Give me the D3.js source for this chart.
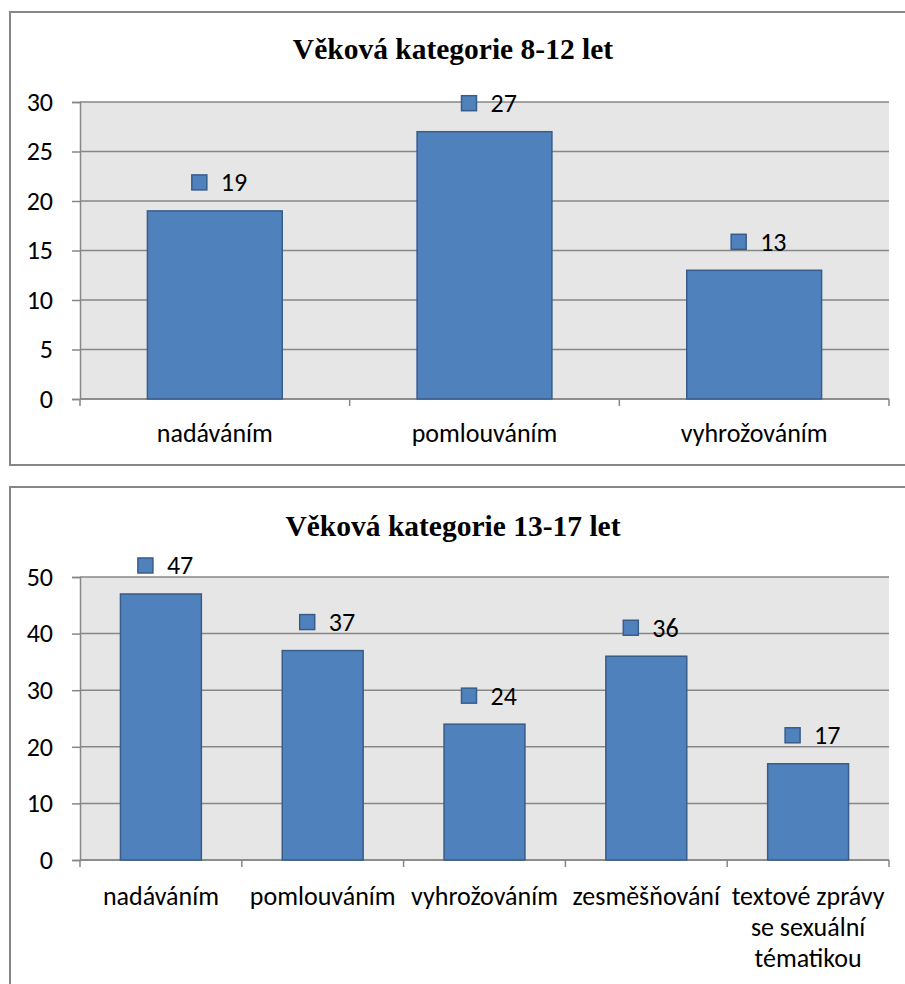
<!DOCTYPE html>
<html><head><meta charset="utf-8">
<script src="https://cdn.jsdelivr.net/npm/d3@7"></script>
<style>
html,body{margin:0;padding:0;background:#fff;}
svg{display:block;}
</style></head>
<body>
<svg id="chart" width="905" height="984"></svg>
<script>
// ---- data ----
const title1 = "Věková kategorie 8-12 let";
const categories1 = ["nadáváním", "pomlouváním", "vyhrožováním"];
const values1 = [19, 27, 13];
const yTicks1 = [0, 5, 10, 15, 20, 25, 30];

const title2 = "Věková kategorie 13-17 let";
const categories2 = ["nadáváním", "pomlouváním", "vyhrožováním", "zesměšňování", "textové zprávy\nse sexuální\ntématikou"];
const values2 = [47, 37, 24, 36, 17];
const yTicks2 = [0, 10, 20, 30, 40, 50];

// ---- styles ----
const labelFont = "Carlito, Lato, 'Noto Sans', sans-serif";
const labelSize = 26;
const titleFont = "'Liberation Serif', 'Times New Roman', serif";
const gridColor = "#878787";
const plotBg = "#e6e6e6";
const barFill = "#4f81bd";
const barStroke = "#385d8a";

const svg = d3.select("#chart");

function drawChart(cfg) {
  const g = svg.append("g");
  // frame
  g.append("rect")
    .attr("x", cfg.frame.x).attr("y", cfg.frame.y)
    .attr("width", cfg.frame.w).attr("height", cfg.frame.h)
    .attr("fill", "#fff").attr("stroke", "#878787").attr("stroke-width", 2);

  // title
  g.append("text")
    .attr("x", 453).attr("y", cfg.titleY)
    .attr("text-anchor", "middle")
    .attr("font-family", titleFont).attr("font-weight", "bold")
    .attr("font-size", 29.5).attr("fill", "#000")
    .text(cfg.title);

  const x = d3.scaleBand().domain(cfg.categories)
    .range([cfg.plot.x0, cfg.plot.x1]).paddingInner(0.5).paddingOuter(0.25);
  const y = d3.scaleLinear().domain([0, d3.max(cfg.yTicks)])
    .range([cfg.plot.y1, cfg.plot.y0]);

  // plot background
  g.append("rect")
    .attr("x", cfg.plot.x0).attr("y", y(d3.max(cfg.yTicks)))
    .attr("width", cfg.plot.x1 - cfg.plot.x0)
    .attr("height", y(0) - y(d3.max(cfg.yTicks)))
    .attr("fill", plotBg);

  // gridlines
  g.append("g").selectAll("line").data(cfg.yTicks).join("line")
    .attr("x1", cfg.plot.x0).attr("x2", cfg.plot.x1)
    .attr("y1", d => y(d)).attr("y2", d => y(d))
    .attr("stroke", gridColor).attr("stroke-width", 1.5);

  // y axis
  const yAxis = g.append("g")
    .attr("transform", `translate(${cfg.plot.x0},0)`)
    .call(d3.axisLeft(y).tickValues(cfg.yTicks).tickSize(8).tickPadding(19).tickFormat(d3.format("d")));
  yAxis.select(".domain").attr("stroke", gridColor).attr("stroke-width", 1.5);
  yAxis.selectAll(".tick line").attr("stroke", gridColor).attr("stroke-width", 1.5);
  yAxis.selectAll(".tick text")
    .attr("font-family", labelFont).attr("font-size", labelSize).attr("fill", "#000");

  // x axis baseline & boundary ticks
  const step = x.step();
  const bounds = d3.range(cfg.categories.length + 1).map(i => cfg.plot.x0 + i * step);
  g.append("line")
    .attr("x1", cfg.plot.x0).attr("x2", cfg.plot.x1)
    .attr("y1", y(0)).attr("y2", y(0))
    .attr("stroke", gridColor).attr("stroke-width", 1.5);
  g.append("g").selectAll("line").data(bounds).join("line")
    .attr("x1", d => d).attr("x2", d => d)
    .attr("y1", y(0)).attr("y2", y(0) + 7)
    .attr("stroke", gridColor).attr("stroke-width", 1.5);

  // bars
  g.append("g").selectAll("rect").data(cfg.values).join("rect")
    .attr("x", (d, i) => x(cfg.categories[i]))
    .attr("y", d => y(d))
    .attr("width", x.bandwidth())
    .attr("height", d => y(0) - y(d))
    .attr("fill", barFill).attr("stroke", barStroke).attr("stroke-width", 1.5);

  // data labels with legend key
  const lab = g.append("g").selectAll("g").data(cfg.values).join("g")
    .attr("transform", (d, i) => `translate(${x(cfg.categories[i]) + x.bandwidth() / 2},${y(d) - 28.5})`);
  lab.append("rect")
    .attr("x", -23).attr("y", -7.5).attr("width", 15).attr("height", 15)
    .attr("fill", barFill).attr("stroke", barStroke).attr("stroke-width", 1.5);
  lab.append("text")
    .attr("x", 6).attr("y", 9)
    .attr("font-family", labelFont).attr("font-size", labelSize).attr("fill", "#000")
    .text(d => d);

  // category labels
  const cl = g.append("g").selectAll("text").data(cfg.categories).join("text")
    .attr("x", d => x(d) + x.bandwidth() / 2)
    .attr("y", cfg.catY)
    .attr("text-anchor", "middle")
    .attr("font-family", labelFont).attr("font-size", labelSize).attr("fill", "#000");
  cl.each(function(d) {
    const lines = d.split("\n");
    const t = d3.select(this);
    lines.forEach((ln, j) => {
      t.append("tspan").attr("x", t.attr("x")).attr("dy", j === 0 ? 0 : 31).text(ln);
    });
  });
}

drawChart({
  title: title1, categories: categories1, values: values1, yTicks: yTicks1,
  frame: {x: 10, y: 12, w: 910, h: 453},
  titleY: 59,
  plot: {x0: 80, x1: 889, y0: 102, y1: 399},
  catY: 442
});

drawChart({
  title: title2, categories: categories2, values: values2, yTicks: yTicks2,
  frame: {x: 10, y: 487, w: 910, h: 520},
  titleY: 536,
  plot: {x0: 80, x1: 889, y0: 577, y1: 860},
  catY: 905
});
</script>
</body></html>
